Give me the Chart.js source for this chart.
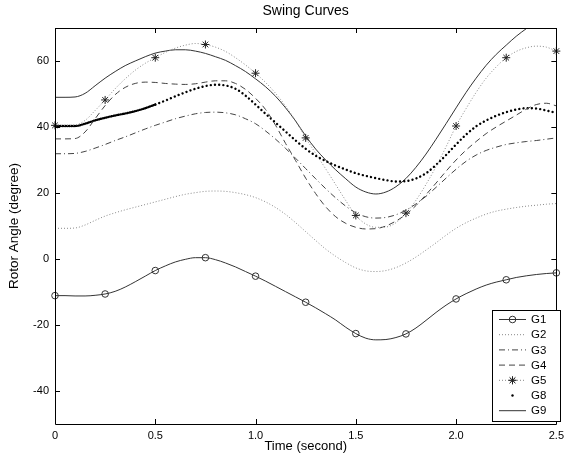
<!DOCTYPE html>
<html>
<head>
<meta charset="utf-8">
<script src="https://cdn.jsdelivr.net/npm/chart.js@4/dist/chart.umd.min.js"></script>
<style>
  html, body { margin: 0; padding: 0; background: #fff; }
  #wrap { width: 569px; height: 457px; }
</style>
</head>
<body>
<div id="wrap"><canvas id="swingChart"></canvas></div>
<script>
// time (s), one sample every 0.05 s
const time = [0, 0.05, 0.1, 0.15, 0.2, 0.25, 0.3, 0.35, 0.4, 0.45,
  0.5, 0.55, 0.6, 0.65, 0.7, 0.75, 0.8, 0.85, 0.9, 0.95,
  1.0, 1.05, 1.1, 1.15, 1.2, 1.25, 1.3, 1.35, 1.4, 1.45,
  1.5, 1.55, 1.6, 1.65, 1.7, 1.75, 1.8, 1.85, 1.9, 1.95,
  2.0, 2.05, 2.1, 2.15, 2.2, 2.25, 2.3, 2.35, 2.4, 2.45, 2.5];

// rotor angles (degree)
const g1 = [-11.1, -11.1, -11.2, -11.2, -11.0, -10.6, -9.8, -8.5, -6.9, -5.2,
  -3.5, -2.1, -0.9, -0.1, 0.4, 0.4, -0.2, -1.2, -2.4, -3.8,
  -5.2, -6.7, -8.3, -9.9, -11.5, -13.1, -14.8, -16.6, -18.5, -20.7,
  -22.6, -24.0, -24.5, -24.4, -23.8, -22.7, -20.9, -18.6, -16.2, -14.0,
  -12.1, -10.5, -9.1, -7.9, -7.0, -6.3, -5.6, -5.1, -4.7, -4.4, -4.2];
const g2 = [9.3, 9.3, 9.4, 10.3, 11.7, 13.0, 14.0, 14.9, 15.7, 16.5,
  17.3, 18.1, 18.9, 19.6, 20.1, 20.5, 20.6, 20.5, 20.1, 19.5,
  18.6, 17.3, 15.6, 13.5, 11.0, 8.3, 5.6, 3.0, 0.8, -1.1,
  -2.7, -3.6, -3.8, -3.5, -2.6, -1.2, 0.6, 2.7, 4.9, 7.2,
  9.3, 11.0, 12.4, 13.6, 14.5, 15.1, 15.6, 16.0, 16.3, 16.6, 16.8];
const g3 = [31.9, 31.9, 32.0, 32.6, 33.6, 34.7, 35.9, 37.0, 38.2, 39.4,
  40.5, 41.5, 42.5, 43.3, 44.0, 44.4, 44.5, 44.3, 43.7, 42.5,
  41.0, 38.8, 36.3, 33.5, 30.5, 27.4, 24.3, 21.3, 18.5, 16.0,
  14.0, 12.8, 12.4, 12.6, 13.4, 14.8, 16.7, 19.0, 21.7, 24.5,
  27.2, 29.6, 31.5, 32.9, 33.9, 34.7, 35.2, 35.6, 35.9, 36.3, 36.7];
const g4 = [36.4, 36.4, 36.5, 38.5, 42.5, 46.5, 49.8, 52.0, 53.2, 53.6,
  53.5, 53.2, 53.0, 52.9, 53.1, 53.6, 54.0, 54.0, 53.2, 51.4,
  48.7, 45.3, 40.5, 35.0, 29.8, 24.5, 19.8, 15.8, 12.8, 10.8,
  9.6, 9.1, 9.2, 10.0, 11.5, 13.5, 16.2, 19.5, 23.0, 26.6,
  30.0, 33.0, 35.6, 38.0, 40.0, 41.8, 43.6, 45.4, 46.8, 47.2, 46.4];
const g5 = [40.5, 40.5, 40.6, 42.0, 45.0, 48.2, 51.6, 54.6, 57.2, 59.3,
  61.0, 62.6, 63.9, 64.8, 65.3, 65.0, 64.2, 62.9, 61.0, 58.8,
  56.3, 53.5, 50.2, 46.3, 41.8, 36.7, 32.0, 27.3, 22.5, 17.7,
  13.2, 10.6, 9.6, 9.7, 11.0, 13.9, 17.8, 22.6, 28.0, 34.0,
  40.3, 45.6, 50.5, 54.8, 58.2, 61.0, 62.9, 64.0, 64.5, 64.2, 63.0];
const g8 = [40.3, 40.3, 40.3, 41.0, 42.0, 42.8, 43.5, 44.1, 44.8, 45.7,
  46.8, 48.0, 49.3, 50.5, 51.6, 52.4, 52.8, 52.6, 51.6, 49.5,
  46.8, 44.0, 41.3, 38.6, 35.9, 33.4, 31.3, 29.7, 28.3, 27.1,
  26.0, 25.2, 24.5, 23.9, 23.5, 23.6, 24.4, 26.0, 28.5, 31.5,
  34.7, 37.7, 40.2, 42.0, 43.4, 44.5, 45.3, 45.7, 45.6, 45.0, 44.3];
const g9 = [49.0, 49.0, 49.1, 50.2, 52.5, 54.8, 56.8, 58.6, 60.0, 61.3,
  62.4, 63.0, 63.4, 63.4, 63.0, 62.3, 61.3, 60.2, 58.6, 56.8,
  54.6, 52.2, 49.3, 45.8, 41.8, 37.3, 33.3, 30.0, 27.0, 24.3,
  21.8, 20.3, 19.7, 20.3, 21.9, 24.4, 27.8, 31.8, 36.3, 41.0,
  45.8, 50.5, 54.8, 58.7, 62.0, 64.8, 67.5, 69.8, 72.0, 73.8, 75.0];

const xTicks = [0, 0.5, 1, 1.5, 2, 2.5];
const yTicks = [-40, -20, 0, 20, 40, 60];

const FONT = "'Liberation Sans', Arial, Helvetica, sans-serif";

function pts(values) {
  return values.map((v, i) => ({ x: time[i], y: v }));
}

// markers only every 0.25 s (every 5th sample)
const everyQuarter = r => ctx => ctx.dataIndex % 5 === 0 ? r : 0;

const clipArea = { left: 6, right: 6, top: 0, bottom: 6 };

const datasets = [
  { label: 'G1', data: pts(g1), borderColor: '#333', borderWidth: 1,
    pointStyle: 'circle', pointRadius: everyQuarter(3.3), pointBorderColor: '#333',
    pointBackgroundColor: 'rgba(0,0,0,0)', pointBorderWidth: 1 },
  { label: 'G2', data: pts(g2), borderColor: '#888', borderWidth: 1,
    borderDash: [1, 2], pointRadius: 0 },
  { label: 'G3', data: pts(g3), borderColor: '#444', borderWidth: 1,
    borderDash: [6, 3, 1, 3], pointRadius: 0 },
  { label: 'G4', data: pts(g4), borderColor: '#444', borderWidth: 1,
    borderDash: [6, 4], pointRadius: 0 },
  { label: 'G5', data: pts(g5), borderColor: '#888', borderWidth: 1,
    borderDash: [1, 2], pointStyle: 'star', pointRadius: everyQuarter(4),
    pointBorderColor: '#222', pointBorderWidth: 1 },
  { label: 'G8', data: pts(g8), borderColor: '#000', borderWidth: 2.4,
    borderCapStyle: 'round', borderDash: [0.01, 4.2], pointRadius: 0,
    segment: { borderDash: ctx => ctx.p0.parsed.x < 0.5 ? [0.01, 1.8] : [0.01, 4.2] } },
  { label: 'G9', data: pts(g9), borderColor: '#333', borderWidth: 1, pointRadius: 0 }
];
datasets.forEach(d => {
  d.fill = false;
  d.cubicInterpolationMode = 'monotone';
  d.clip = clipArea;
});

// matlab-like frame, inward ticks and legend box
const matlabAxes = {
  id: 'matlabAxes',
  afterDatasetsDraw(chart) {
    const { ctx, chartArea: a, scales: { x, y } } = chart;
    ctx.save();
    ctx.strokeStyle = '#000';
    ctx.lineWidth = 1;
    ctx.setLineDash([]);
    ctx.beginPath();
    ctx.rect(Math.round(a.left) + 0.5, Math.round(a.top) + 0.5,
      Math.round(a.right - a.left), Math.round(a.bottom - a.top));
    xTicks.forEach(t => {
      const px = Math.round(x.getPixelForValue(t)) + 0.5;
      ctx.moveTo(px, a.bottom); ctx.lineTo(px, a.bottom - 5);
      ctx.moveTo(px, a.top); ctx.lineTo(px, a.top + 5);
    });
    yTicks.forEach(t => {
      const py = Math.round(y.getPixelForValue(t)) + 0.5;
      ctx.moveTo(a.left, py); ctx.lineTo(a.left + 5, py);
      ctx.moveTo(a.right, py); ctx.lineTo(a.right - 5, py);
    });
    ctx.stroke();

    // legend
    const bx = 492.5, by = 310.5, bw = 68, bh = 111;
    ctx.fillStyle = '#fff';
    ctx.fillRect(bx, by, bw, bh);
    ctx.strokeRect(bx, by, bw, bh);
    ctx.font = '11.5px ' + FONT;
    ctx.textBaseline = 'middle';
    ctx.textAlign = 'left';
    chart.data.datasets.forEach((ds, i) => {
      const ly = 319.5 + i * 15.2;
      ctx.strokeStyle = ds.borderColor;
      ctx.lineWidth = 1;
      if (ds.label !== 'G8') {
        ctx.setLineDash(ds.borderDash || []);
        ctx.beginPath();
        ctx.moveTo(499, ly); ctx.lineTo(526, ly);
        ctx.stroke();
      }
      ctx.setLineDash([]);
      if (ds.label === 'G1') {
        ctx.beginPath();
        ctx.arc(512.5, ly, 3.3, 0, Math.PI * 2);
        ctx.stroke();
      } else if (ds.label === 'G5') {
        Chart.helpers.drawPoint(ctx, { pointStyle: 'star', radius: 4, rotation: 0, borderWidth: 1 }, 512.5, ly);
        ctx.strokeStyle = '#222';
        ctx.stroke();
      } else if (ds.label === 'G8') {
        ctx.fillStyle = '#000';
        ctx.beginPath();
        ctx.arc(512.5, ly, 1.2, 0, Math.PI * 2);
        ctx.fill();
      }
      ctx.fillStyle = '#000';
      ctx.fillText(ds.label, 531, ly + 0.5);
    });
    ctx.restore();
  }
};

new Chart(document.getElementById('swingChart'), {
  type: 'line',
  data: { datasets },
  options: {
    responsive: true,
    maintainAspectRatio: false,
    animation: false,
    layout: { padding: { left: 0, right: 8, top: 0, bottom: 0 } },
    plugins: {
      legend: { display: false },
      tooltip: { enabled: false },
      title: {
        display: true,
        fullSize: false,
        text: 'Swing Curves',
        color: '#000',
        font: { family: FONT, size: 14, weight: 'normal' },
        padding: { top: 3, bottom: 8.2 }
      }
    },
    scales: {
      x: {
        type: 'linear',
        min: 0,
        max: 2.5,
        afterBuildTicks: s => { s.ticks = xTicks.map(v => ({ value: v })); },
        afterFit: s => { s.height = 33; },
        grid: { display: false, drawTicks: false },
        border: { display: false },
        ticks: { color: '#000', padding: 5, maxRotation: 0,
          font: { family: FONT, size: 11 } },
        title: { display: true, text: 'Time (second)', color: '#000',
          font: { family: FONT, size: 13 }, padding: { top: 0, bottom: 3 } }
      },
      y: {
        type: 'linear',
        min: -50,
        max: 70,
        afterBuildTicks: s => { s.ticks = yTicks.map(v => ({ value: v })); },
        afterFit: s => { s.width = 55; },
        grid: { display: false, drawTicks: false },
        border: { display: false },
        ticks: { color: '#000', padding: 6,
          font: { family: FONT, size: 11 } },
        title: { display: true, text: 'Rotor Angle (degree)', color: '#000',
          font: { family: FONT, size: 13.5 }, padding: { top: 6, bottom: 0 } }
      }
    }
  },
  plugins: [matlabAxes]
});
</script>
</body>
</html>
